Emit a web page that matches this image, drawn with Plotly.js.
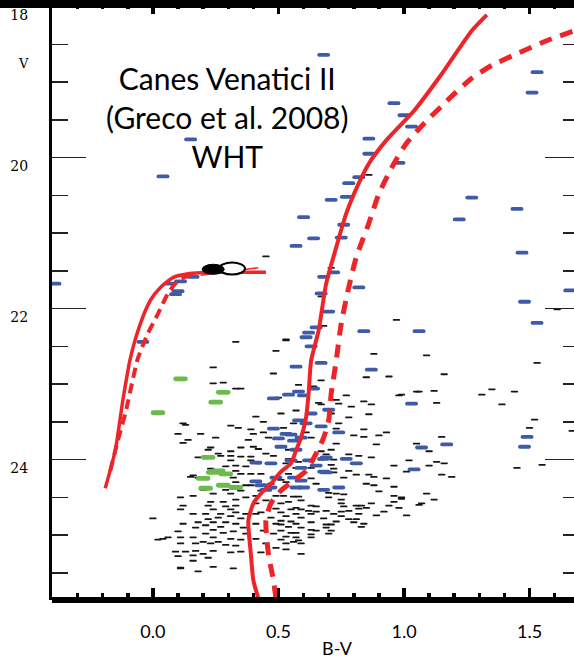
<!DOCTYPE html>
<html>
<head>
<meta charset="utf-8">
<script src="https://cdn.plot.ly/plotly-3.0.1.min.js"></script>
<style>
html, body { margin:0; padding:0; overflow:hidden; background:#fff; }
#cmd { width:600px; height:662px; }
.scatterlayer path.point { stroke-linecap: round; }
</style>
</head>
<body>
<div id="cmd"></div>
<script>
// Colour-magnitude diagram of Canes Venatici II: field/member stars as [B-V, V]

// Faint stars (black dashes)
const fieldStars = [
  [0.24,22.78],[0.48,22.86],[0.24,22.99],[0.28,22.98],[0.33,23.06],[0.35,23.06],[0.50,23.18],[0.41,23.43],[0.44,23.50],[0.13,23.54],
  [0.31,23.55],[0.34,23.58],[0.10,23.66],[0.19,23.66],[0.39,23.60],[0.44,23.64],[0.40,23.66],[0.46,23.71],[0.25,23.71],[0.14,23.74],
  [0.38,23.74],[0.12,23.78],[0.35,23.84],[0.40,23.83],[0.42,23.86],[0.23,23.84],[0.22,23.87],[0.31,23.89],[0.26,23.92],[0.27,23.95],
  [0.31,23.95],[0.35,23.96],[0.39,23.96],[0.45,23.92],[0.48,23.95],[0.18,23.97],[0.31,24.01],[0.39,24.01],[0.42,24.05],[0.33,24.08],
  [0.29,24.09],[0.23,24.12],[0.37,24.09],[0.33,24.15],[0.35,24.19],[0.16,24.21],[0.15,24.23],[0.18,24.24],[0.32,24.24],[0.39,24.19],
  [0.43,24.19],
  [0.85,22.91],[0.94,22.90],[0.67,22.95],[0.58,23.01],[0.64,23.03],[0.77,23.15],[0.73,23.21],[0.98,23.15],[1.05,23.10],[0.66,23.25],
  [0.74,23.26],[0.84,23.23],[0.87,23.27],[0.79,23.30],[0.67,23.27],[0.57,23.35],[0.71,23.39],[0.51,23.39],[0.86,23.40],[0.78,23.44],
  [0.56,23.52],[0.74,23.52],[0.52,23.58],[0.73,23.59],[0.84,23.60],[0.93,23.64],[0.80,23.68],[0.84,23.70],[0.90,23.68],[0.61,23.64],
  [0.63,23.71],[0.73,23.79],[0.89,23.80],[1.05,23.79],[0.54,23.87],[0.71,23.87],[0.67,23.89],[0.69,23.93],[0.78,23.93],[0.82,23.95],
  [0.87,23.97],[0.72,24.00],[0.67,24.00],[0.54,23.99],[0.58,24.03],[1.02,24.01],[0.53,24.05],[0.82,24.05],[0.71,24.07],[0.96,24.08],
  [0.72,24.12],[0.57,24.11],[0.63,24.11],[0.78,24.15],[0.54,24.19],[0.72,24.17],[0.81,24.20],[0.86,24.20],[0.76,24.24],[0.88,24.23],
  [0.93,24.25],[0.63,24.25],[0.51,24.27],
  [1.53,22.72],[1.16,22.87],[0.99,23.14],[1.06,23.10],[1.12,23.09],[1.13,23.25],[1.31,23.14],[1.35,23.07],[1.44,23.10],[1.39,23.27],
  [1.52,23.47],[1.50,23.58],[1.67,23.62],[1.15,23.70],[1.10,23.89],[1.13,24.03],[1.16,24.05],[1.10,24.08],[1.01,24.16],[1.15,24.20],
  [1.19,24.23],[1.45,24.11],[1.55,24.07],[1.09,24.45],[0.99,24.52],[1.12,24.53],[1.06,24.60],[0.98,24.64],[1.01,24.74],
  [0.53,24.30],[0.65,24.32],[0.85,24.32],[0.88,24.34],[0.96,24.36],[0.90,24.42],[0.70,24.44],[0.73,24.45],[0.76,24.46],[0.52,24.48],
  [0.56,24.49],[0.58,24.49],[0.70,24.50],[0.96,24.48],[0.99,24.50],[0.75,24.53],[0.59,24.54],[0.54,24.56],[0.96,24.56],[0.51,24.58],
  [0.75,24.58],[0.87,24.58],[0.81,24.61],[0.83,24.61],[1.07,24.58],[0.63,24.61],[0.65,24.62],[0.76,24.62],[0.94,24.61],[0.57,24.64],
  [0.82,24.65],[0.85,24.64],[0.55,24.66],[0.59,24.66],[0.62,24.68],[0.65,24.69],[0.69,24.68],[0.75,24.69],[0.78,24.68],[0.92,24.69],
  [0.51,24.70],[0.57,24.72],[0.63,24.72],[0.72,24.72],[0.82,24.72],[0.89,24.74],[0.75,24.75],[0.53,24.75],[0.59,24.77],[0.68,24.78],
  [0.78,24.79],[0.81,24.79],[0.51,24.81],[0.55,24.82],[0.73,24.82],[0.57,24.85],[0.80,24.83],[0.63,24.83],[0.51,24.86],[0.69,24.86],
  [0.71,24.86],[0.84,24.85],[0.54,24.89],[0.83,24.89],[0.59,24.90],[0.69,24.90],[0.51,24.94],[0.63,24.93],[0.65,24.94],[0.71,24.94],
  [0.55,24.97],[0.57,24.97],[0.70,24.98],[0.63,24.99],[0.53,25.02],[0.57,25.03],[0.51,25.06],[0.63,25.03],[0.56,25.09],[0.58,25.07],
  [0.53,25.11],[0.59,25.11],[0.53,25.19],[0.59,25.25],
  [0.11,24.50],[0.16,24.48],[0.20,24.40],[0.24,24.45],[0.29,24.40],[0.31,24.45],[0.35,24.41],[0.37,24.34],[0.23,24.56],[0.28,24.56],
  [0.33,24.53],[0.37,24.50],[0.12,24.61],[0.22,24.61],[0.29,24.62],[0.33,24.61],[0.11,24.66],[0.24,24.66],[0.31,24.66],[0.16,24.72],
  [0.21,24.72],[0.27,24.72],[0.33,24.70],[0.37,24.72],[0.26,24.77],[0.31,24.75],[0.22,24.79],[0.35,24.78],[0.00,24.78],[0.18,24.83],
  [0.24,24.83],[0.29,24.83],[0.33,24.85],[0.12,24.85],[0.21,24.87],[0.27,24.89],[0.36,24.90],[0.17,24.90],[0.24,24.93],[0.10,24.95],
  [0.32,24.95],[0.28,24.97],[0.21,24.98],[0.37,24.98],[0.06,25.03],[0.11,25.03],[0.16,25.03],[0.24,25.03],[0.02,25.06],[0.31,25.05],
  [0.35,25.06],[0.20,25.09],[0.26,25.09],[0.11,25.11],[0.17,25.11],[0.23,25.11],[0.29,25.13],[0.33,25.14],[0.09,25.22],[0.13,25.22],
  [0.17,25.21],[0.20,25.25],[0.24,25.21],[0.31,25.23],[0.35,25.22],[0.10,25.28],[0.16,25.27],[0.22,25.30],[0.16,25.34],[0.24,25.42],
  [0.11,25.44],[0.18,25.48],[0.32,25.44],
  [0.12,23.52],[0.04,25.05],[0.11,25.43],
  [0.41,24.58],[0.43,24.70],[0.47,24.77],[0.41,24.85],[0.44,24.94],[0.48,24.98],[0.41,25.05],[0.45,25.11],[0.43,25.23],[0.49,25.17],
  [0.41,24.72],[0.49,24.85],[0.45,24.54],[0.49,24.65],[0.39,24.34],[0.43,24.41],[0.49,24.48],[0.33,24.30],[0.41,24.48],[0.47,24.32],
  [0.86,20.23],[0.71,21.46],[0.67,21.84],[0.97,22.15],[0.68,22.23],[0.53,22.42],[0.88,22.60],[1.09,22.62],[1.61,22.01],[0.45,21.31],
  [0.33,22.44],[0.53,22.41],[0.49,22.56]
];

// Brighter stars (blue)
const brightStars = [
  [0.68,18.64],[0.96,19.28],[1.00,19.44],[1.03,19.59],[0.86,19.75],[0.86,19.95],[0.98,20.07],[0.82,20.26],[0.78,20.34],[0.71,20.56],
  [0.77,20.52],[0.60,20.79],[1.27,20.53],[1.45,20.68],[1.22,20.82],[0.76,20.89],[0.64,21.07],[0.75,21.06],[0.57,21.17],[1.47,21.26],
  [0.68,21.58],[0.72,21.52],[0.82,21.72],[0.67,21.80],[0.70,22.04],[1.48,21.91],[1.66,21.76],[1.53,22.19],[0.84,22.30],[1.06,22.30],
  [0.62,22.32],[0.61,22.38],[0.65,22.25],[0.63,22.50],[1.53,18.87],[1.51,19.14],[0.04,20.25],[0.15,19.76],[0.07,21.67],[0.11,21.64],
  [0.16,21.58],[0.10,21.77],[0.09,21.81],[-0.04,22.44],[-0.39,21.67],
  [1.03,23.26],[1.07,23.84],[1.17,23.80],[1.04,24.13],[1.49,23.70],[1.48,23.83],
  [0.57,22.77],[0.67,22.72],[0.87,22.81],[0.54,23.14],[0.60,23.15],[0.64,23.06],[0.58,23.10],[0.70,23.34],[0.63,23.39],[0.58,23.48],
  [0.61,23.52],[0.67,23.56],[0.74,23.64],[0.53,23.66],[0.59,23.71],[0.56,23.75],[0.51,23.83],[0.57,23.87],[0.68,23.99],[0.77,23.99],
  [0.62,24.01],[0.55,24.01],[0.81,24.05],[0.65,24.08],[0.59,24.11],[0.68,24.16],[0.56,24.24],[0.48,23.59],[0.55,23.67],[0.50,23.72],
  [0.41,24.04],[0.47,24.05],[0.69,23.97],[0.69,24.17],[0.41,24.29],[0.49,24.24],[0.43,24.34],[0.47,24.37],[0.59,24.28],[0.60,24.37],
  [0.68,24.40],[0.74,24.37],[0.45,24.40],[0.57,24.37],[0.48,23.19]
];

// Blue stragglers (green)
const stragglers = [
  [0.11,22.93],[0.28,23.11],[0.25,23.24],[0.02,23.38],[0.22,23.97],[0.26,24.15],[0.29,24.19],[0.20,24.25],[0.28,24.34],[0.33,24.37],
  [0.21,24.38],[0.24,24.17]
];

// Isochrones: RGB/MS (solid and dashed) and horizontal branch tracks
const isoSolidBV = [0.42,0.40,0.39,0.38,0.40,0.43,0.47,0.51,0.55,0.57,0.59,0.61,0.62,0.63,0.66,0.69,0.73,0.77,0.82,0.86,0.93,1.04,1.14,1.27,1.33];
const isoSolidV  = [25.84,25.60,25.25,24.81,24.58,24.45,24.32,24.16,24.05,23.88,23.71,23.44,23.13,22.69,22.29,21.67,21.19,20.74,20.34,20.08,19.77,19.38,18.94,18.32,18.11];
const isoDashBV  = [0.49,0.48,0.46,0.45,0.47,0.51,0.56,0.61,0.65,0.68,0.70,0.71,0.73,0.75,0.78,0.81,0.86,0.90,0.96,1.01,1.08,1.18,1.27,1.35,1.46,1.57,1.68];
const isoDashV   = [25.84,25.60,25.25,24.81,24.58,24.41,24.28,24.15,23.92,23.71,23.48,23.13,22.69,22.20,21.72,21.32,20.87,20.48,20.08,19.81,19.55,19.22,18.95,18.78,18.61,18.45,18.32];
const hbSolidBV  = [-0.19,-0.15,-0.12,-0.09,-0.05,-0.01,0.03,0.08,0.14,0.23,0.45];
const hbSolidV   = [24.38,23.88,23.22,22.66,22.20,21.89,21.72,21.59,21.54,21.52,21.52];
const hbDashBV   = [-0.17,-0.14,-0.11,-0.06,-0.02,0.02,0.06,0.10,0.15];
const hbDashV    = [24.15,23.75,23.39,22.66,22.33,22.07,21.80,21.63,21.55];
const hbThinBV   = [0.19,0.42];
const hbThinV    = [21.56,21.46];

// Red clump / HB centroid markers
const clumpFilled = [0.24, 21.48];
const clumpOpen   = [0.315, 21.47];

const xTickVals = [0, 0.5, 1.0, 1.5];
const xTickText = ['0.0', '0.5', '1.0', '1.5'];
const yTickVals = [18, 20, 22, 24];
const yTickText = ['18', '20', '22', '24'];

const RED = '#ee2428';
const col = (arr, i) => arr.map(p => p[i]);

function dashTrace(pts, color, size, width) {
  return {
    type: 'scatter', mode: 'markers', hoverinfo: 'skip',
    x: col(pts, 0), y: col(pts, 1),
    marker: { symbol: 'line-ew', size: size, color: color, line: { color: color, width: width } }
  };
}
function lineTrace(x, y, width, dash) {
  return {
    type: 'scatter', mode: 'lines', hoverinfo: 'skip', x: x, y: y,
    line: { color: RED, width: width, dash: dash || 'solid', shape: 'spline', smoothing: 0.6 }
  };
}

const data = [
  dashTrace(fieldStars, '#151515', 4, 1.8),
  dashTrace(brightStars, '#3d5ba9', 6.5, 3.8),
  dashTrace(stragglers, '#6cb94c', 7, 4.8),
  lineTrace(isoDashBV, isoDashV, 5, '13px,9px'),
  lineTrace(isoSolidBV, isoSolidV, 4),
  lineTrace(hbDashBV, hbDashV, 4, '10px,6px'),
  lineTrace(hbSolidBV, hbSolidV, 3.5),
  { type: 'scatter', mode: 'lines', hoverinfo: 'skip', x: hbThinBV, y: hbThinV, line: { color: RED, width: 1.5 } }
];

const layout = {
  width: 600, height: 662,
  margin: { l: 52, r: 21, t: 5, b: 65 },
  paper_bgcolor: '#fff', plot_bgcolor: '#fff',
  showlegend: false,
  xaxis: {
    range: [-0.402, 1.697], showgrid: false, zeroline: false,
    showline: true, linewidth: 2.5, linecolor: '#000', mirror: 'ticks',
    ticks: 'inside', ticklen: 9, tickwidth: 3.5, tickcolor: '#000',
    tickmode: 'array', tickvals: xTickVals, ticktext: xTickText,
    tickfont: { family: 'Lato, "Open Sans", sans-serif', size: 18, color: '#000' },
    ticklabelstandoff: 17,
    minor: { ticks: 'inside', ticklen: 4, tickwidth: 3.5, tickcolor: '#000', dtick: 0.1, tick0: 0, showgrid: false }
  },
  yaxis: {
    range: [25.82, 17.98], showgrid: false, zeroline: false,
    showline: true, linewidth: 3, linecolor: '#000', mirror: 'ticks',
    ticks: 'inside', ticklen: 34, tickwidth: 1.5, tickcolor: '#222',
    tickmode: 'array', tickvals: yTickVals, ticktext: yTickText,
    tickfont: { family: '"DejaVu Serif", serif', size: 14, color: '#000' },
    ticklabelstandoff: 18, ticklabelshift: -9,
    minor: { ticks: 'inside', ticklen: 16, tickwidth: 1.5, tickcolor: '#222', dtick: 0.5, tick0: 18, showgrid: false }
  },
  shapes: [
    // heavy frame bar along the top
    { type: 'rect', xref: 'paper', yref: 'paper', x0: -0.1, x1: 1.1,
      ysizemode: 'pixel', yanchor: 1, y0: -3, y1: 20,
      fillcolor: '#000', line: { width: 0 }, layer: 'above' },
    // second rule under the x axis
    { type: 'line', xref: 'paper', yref: 'paper', x0: 0, x1: 1,
      ysizemode: 'pixel', yanchor: 0, y0: -4.5, y1: -4.5,
      line: { color: '#000', width: 3 }, layer: 'above' },
    // open HB marker
    { type: 'circle', xref: 'x', yref: 'y',
      xsizemode: 'pixel', ysizemode: 'pixel', xanchor: clumpOpen[0], yanchor: clumpOpen[1],
      x0: -13, x1: 13, y0: -6, y1: 6,
      fillcolor: '#fff', line: { color: '#000', width: 2 }, layer: 'above' },
    // filled HB marker
    { type: 'circle', xref: 'x', yref: 'y',
      xsizemode: 'pixel', ysizemode: 'pixel', xanchor: clumpFilled[0], yanchor: clumpFilled[1],
      x0: -11, x1: 11, y0: -5, y1: 5,
      fillcolor: '#000', line: { color: '#000', width: 1 }, layer: 'above' }
  ],
  annotations: [
    { xref: 'paper', yref: 'paper', x: 0.332, y: 0.811, xanchor: 'center', yanchor: 'middle',
      showarrow: false, align: 'center',
      text: 'Canes Venatici II<br>(Greco et al. 2008)<br>WHT',
      font: { family: 'Lato, "Open Sans", sans-serif', size: 30, color: '#000' } },
    { xref: 'paper', yref: 'paper', x: 0.541, y: -0.086, xanchor: 'center', yanchor: 'middle',
      showarrow: false, text: 'B-V',
      font: { family: 'Lato, "Open Sans", sans-serif', size: 18, color: '#000' } },
    { xref: 'paper', yref: 'paper', x: -0.055, y: 0.902, xanchor: 'center', yanchor: 'middle',
      showarrow: false, text: 'V',
      font: { family: '"DejaVu Serif", serif', size: 13, color: '#000' } }
  ]
};

Plotly.newPlot('cmd', data, layout, { staticPlot: true, displayModeBar: false });
</script>
</body>
</html>
